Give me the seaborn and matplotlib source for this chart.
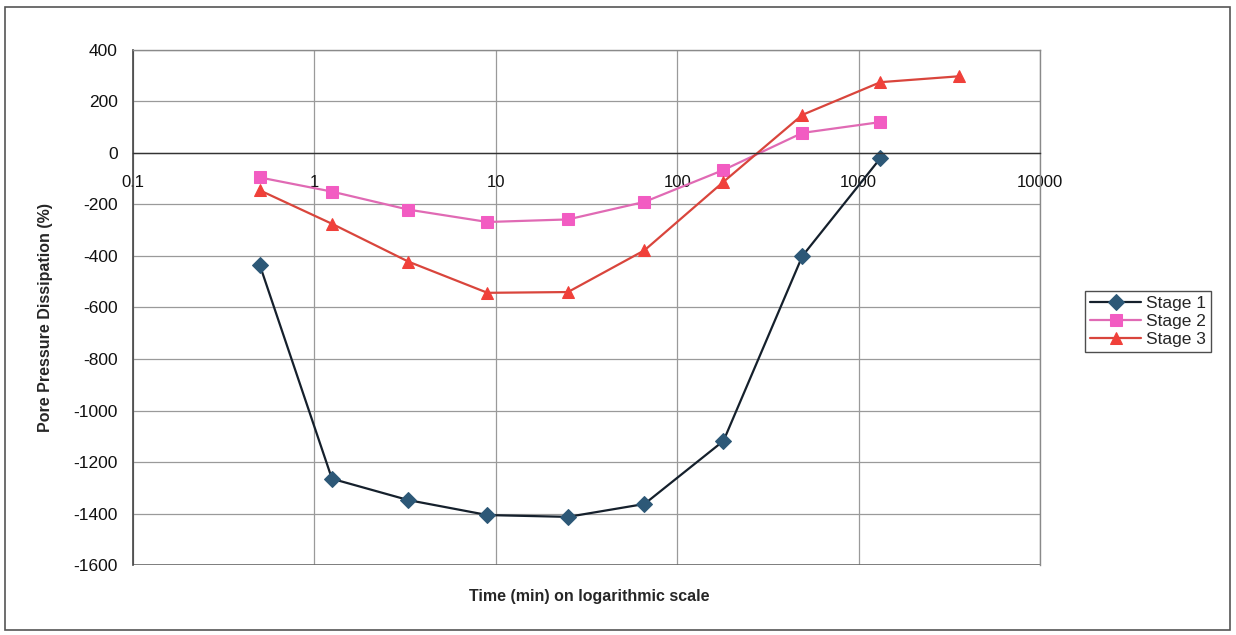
import numpy as np
import pandas as pd
import matplotlib
matplotlib.use("Agg")
import matplotlib.pyplot as plt
from matplotlib.patches import Rectangle
from matplotlib.ticker import FixedLocator, FixedFormatter, NullLocator
import seaborn as sns

# ----------------------------------------------------------------------------
# data
# ----------------------------------------------------------------------------
time_s1 = [0.5, 1.25, 3.3, 9, 25, 66, 180, 490, 1320]
stage1 = [-435, -1265, -1348, -1406, -1413, -1363, -1118, -400, -20]

time_s2 = [0.5, 1.25, 3.3, 9, 25, 66, 180, 490, 1320]
stage2 = [-95, -150, -220, -268, -258, -190, -66, 78, 120]

time_s3 = [0.5, 1.25, 3.3, 9, 25, 66, 180, 490, 1320, 3600]
stage3 = [-145, -275, -422, -543, -540, -378, -112, 148, 275, 298]

x_ticks = [0.1, 1, 10, 100, 1000, 10000]
x_tick_labels = ["0.1", "1", "10", "100", "1000", "10000"]
y_ticks = list(range(-1600, 401, 200))

# ----------------------------------------------------------------------------
# styling
# ----------------------------------------------------------------------------
sns.set_style("white")
plt.rcParams["font.family"] = ["Liberation Sans", "DejaVu Sans"]
plt.rcParams["axes.unicode_minus"] = False

fig = plt.figure(figsize=(12.36, 6.35), dpi=100)
ax = fig.add_axes([0.1076, 0.1102, 0.7338, 0.8111])

series = [
    ("Stage 1", time_s1, stage1, "#15202c", "D", "#2d5877", 8),
    ("Stage 2", time_s2, stage2, "#e06ab4", "s", "#f25cc2", 9),
    ("Stage 3", time_s3, stage3, "#d9453c", "^", "#f0403a", 9),
]

for name, t, v, lc, mk, mc, ms in series:
    df = pd.DataFrame({"time": t, "value": v})
    sns.lineplot(data=df, x="time", y="value", ax=ax, color=lc, linewidth=1.6,
                 marker=mk, markersize=ms, markerfacecolor=mc,
                 markeredgecolor=mc, label=name)

ax.set_xscale("log")
ax.set_xlim(0.1, 10000)
ax.set_ylim(-1600, 400)

ax.xaxis.set_major_locator(FixedLocator(x_ticks))
ax.xaxis.set_major_formatter(FixedFormatter(x_tick_labels))
ax.xaxis.set_minor_locator(NullLocator())
ax.set_yticks(y_ticks)
ax.set_yticklabels([str(y) for y in y_ticks])

# x axis crosses at zero, like the original spreadsheet chart
ax.spines["bottom"].set_position(("data", 0))
ax.spines["bottom"].set_color("#333333")
ax.spines["bottom"].set_linewidth(1.0)
ax.spines["left"].set_color("#444444")
ax.spines["left"].set_linewidth(1.2)
for s in ["top", "right"]:
    ax.spines[s].set_color("#8a8a8a")
    ax.spines[s].set_linewidth(1.0)

ax.grid(True, which="major", color="#9a9a9a", linewidth=0.9)
ax.axhline(-1600, color="#6a6a6a", linewidth=1.2, zorder=1)
ax.set_axisbelow(True)

ax.tick_params(axis="y", direction="out", length=5, width=1, color="#444444",
               labelsize=12.5, pad=6, labelcolor="#111111")
ax.tick_params(axis="x", direction="out", length=4, width=1, color="#333333",
               labelsize=12, pad=12, labelcolor="#111111")

ax.set_xlabel("")
ax.set_ylabel("")
fig.text(0.037, 0.5, "Pore Pressure Dissipation (%)", rotation=90,
         ha="center", va="center", fontsize=11.5, fontweight="bold")
fig.text(0.477, 0.06, "Time (min) on logarithmic scale",
         ha="center", va="center", fontsize=11.5, fontweight="bold")

ax.get_legend().remove()
handles, labels = ax.get_legend_handles_labels()
leg = fig.legend(handles, labels, loc="center left",
                 bbox_to_anchor=(0.878, 0.494), frameon=True, fancybox=False,
                 fontsize=12.5, handlelength=2.9, borderpad=0.3,
                 labelspacing=0.15, handletextpad=0.3, borderaxespad=0)
leg.get_frame().set_edgecolor("#222222")
leg.get_frame().set_linewidth(1.0)

# outer border around the chart area
fig.patches.append(Rectangle((0.004, 0.008), 0.991, 0.981,
                             transform=fig.transFigure, fill=False,
                             edgecolor="#555555", linewidth=1.2))

fig.savefig("out.png", dpi=100)
